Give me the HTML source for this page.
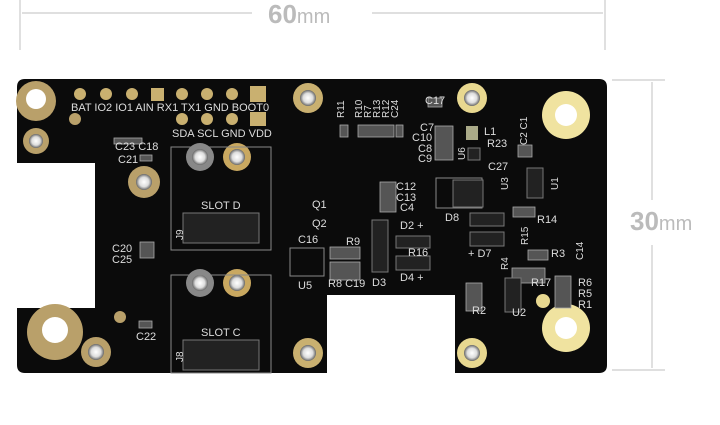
<!DOCTYPE html>
<html><head><style>body{margin:0;background:#fff}svg{display:block}text{font-family:"Liberation Sans",sans-serif}</style></head><body>
<svg width="720" height="425" viewBox="0 0 720 425">
<defs>
<radialGradient id="hole" cx="50%" cy="50%" r="50%"><stop offset="0" stop-color="#fff"/><stop offset="0.6" stop-color="#ddd"/><stop offset="1" stop-color="#666"/></radialGradient>
</defs>
<g stroke="#ccc" stroke-width="1.2">
<line x1="20" y1="0" x2="20" y2="50"/><line x1="605" y1="0" x2="605" y2="50"/>
<line x1="22" y1="13" x2="252" y2="13"/><line x1="372" y1="13" x2="603" y2="13"/>
<line x1="612" y1="80" x2="665" y2="80"/><line x1="612" y1="370" x2="665" y2="370"/>
<line x1="652" y1="82" x2="652" y2="200"/><line x1="652" y1="245" x2="652" y2="368"/>
</g>
<text x="268" y="23" font-size="26" font-weight="bold" fill="#bbb">60<tspan font-size="20" font-weight="normal">mm</tspan></text>
<text x="630" y="230" font-size="26" font-weight="bold" fill="#bbb">30<tspan font-size="20" font-weight="normal">mm</tspan></text>
<path d="M25 79 H599 Q607 79 607 87 V365 Q607 373 599 373 H455 V295 H327 V373 H25 Q17 373 17 365 V308 H95 V163 H17 V87 Q17 79 25 79Z" fill="#0b0b0b"/>
<circle cx="36" cy="101" r="20" fill="#b9a06a"/><circle cx="36" cy="99" r="10" fill="#fff"/>
<circle cx="55" cy="332" r="28" fill="#b9a06a"/><circle cx="55" cy="330" r="13" fill="#fff"/>
<circle cx="566" cy="115" r="24" fill="#f0e3a0"/><circle cx="566" cy="115" r="11" fill="#fff"/>
<circle cx="566" cy="328" r="24" fill="#f0e3a0"/><circle cx="566" cy="328" r="11" fill="#fff"/>
<g>
<circle cx="36" cy="141" r="13" fill="#b9a06a"/><circle cx="36" cy="141" r="7" fill="url(#hole)"/>
<circle cx="144" cy="182" r="16" fill="#b9a06a"/><circle cx="144" cy="182" r="8" fill="url(#hole)"/>
<circle cx="96" cy="352" r="15" fill="#b9a06a"/><circle cx="96" cy="352" r="8" fill="url(#hole)"/>
<circle cx="308" cy="98" r="15" fill="#c9b070"/><circle cx="308" cy="98" r="8" fill="url(#hole)"/>
<circle cx="308" cy="353" r="15" fill="#c9b070"/><circle cx="308" cy="353" r="8" fill="url(#hole)"/>
<circle cx="472" cy="98" r="15" fill="#e8d890"/><circle cx="472" cy="98" r="8" fill="url(#hole)"/>
<circle cx="472" cy="353" r="15" fill="#e8d890"/><circle cx="472" cy="353" r="8" fill="url(#hole)"/>
<circle cx="200" cy="157" r="14" fill="#888"/><circle cx="200" cy="157" r="8" fill="url(#hole)"/>
<circle cx="237" cy="157" r="14" fill="#c9a860"/><circle cx="237" cy="157" r="8" fill="url(#hole)"/>
<circle cx="200" cy="283" r="14" fill="#888"/><circle cx="200" cy="283" r="8" fill="url(#hole)"/>
<circle cx="237" cy="283" r="14" fill="#c9a860"/><circle cx="237" cy="283" r="8" fill="url(#hole)"/>
<circle cx="75" cy="119" r="6" fill="#b9a06a"/><circle cx="120" cy="317" r="6" fill="#b9a06a"/><circle cx="543" cy="301" r="7" fill="#e8d890"/>
</g>
<g fill="#c9b070">
<circle cx="80" cy="94" r="6"/><circle cx="106" cy="94" r="6"/><circle cx="132" cy="94" r="6"/><rect x="151" y="88" width="13" height="13"/>
<circle cx="182" cy="94" r="6"/><circle cx="207" cy="94" r="6"/><circle cx="232" cy="94" r="6"/><rect x="250" y="86" width="16" height="16"/>
<circle cx="182" cy="119" r="6"/><circle cx="207" cy="119" r="6"/><circle cx="232" cy="119" r="6"/><rect x="250" y="112" width="16" height="14"/>
</g>
<g fill="#555" stroke="#aaa" stroke-width="0.8">
<rect x="340" y="125" width="8" height="12"/><rect x="358" y="125" width="36" height="12"/><rect x="396" y="125" width="7" height="12"/>
<rect x="140" y="242" width="14" height="16"/><rect x="114" y="138" width="28" height="6"/><rect x="140" y="155" width="12" height="6"/>
<rect x="139" y="321" width="13" height="7"/><rect x="428" y="98" width="14" height="9"/>
<rect x="435" y="126" width="18" height="34"/><rect x="380" y="182" width="16" height="30"/>
<rect x="513" y="207" width="22" height="10"/><rect x="528" y="250" width="20" height="10"/><rect x="512" y="268" width="33" height="15"/>
<rect x="555" y="276" width="16" height="32"/><rect x="466" y="283" width="16" height="28"/>
<rect x="330" y="247" width="30" height="12"/><rect x="330" y="262" width="30" height="18"/><rect x="518" y="145" width="14" height="12"/>
</g>
<g fill="none" stroke="#888" stroke-width="1">
<rect x="171" y="147" width="100" height="103"/><rect x="171" y="275" width="100" height="98"/>
<rect x="290" y="248" width="34" height="28"/><rect x="436" y="178" width="46" height="30"/>
</g>
<g fill="#222" stroke="#777">
<rect x="183" y="213" width="76" height="30"/><rect x="183" y="340" width="76" height="30"/>
<rect x="453" y="180" width="30" height="27"/><rect x="396" y="236" width="34" height="12"/><rect x="396" y="256" width="34" height="14"/>
<rect x="470" y="213" width="34" height="13"/><rect x="470" y="232" width="34" height="14"/>
<rect x="505" y="278" width="16" height="34"/><rect x="527" y="168" width="16" height="30"/>
<rect x="372" y="220" width="16" height="52"/><rect x="468" y="148" width="12" height="12"/>
</g>
<g fill="#aa8"><rect x="466" y="126" width="12" height="14"/></g>
<g fill="#ddd" font-size="11">
<text x="71" y="111">BAT IO2  IO1 AIN RX1 TX1 GND BOOT0</text>
<text x="172" y="137">SDA SCL GND VDD</text>
<text x="115" y="150">C23 C18</text><text x="118" y="163">C21</text>
<text x="112" y="252">C20</text><text x="112" y="263">C25</text><text x="136" y="340">C22</text>
<text x="201" y="209">SLOT D</text><text x="201" y="336">SLOT C</text>
<text x="298" y="243">C16</text><text x="346" y="245">R9</text><text x="298" y="289">U5</text>
<text x="328" y="287">R8 C19</text><text x="372" y="286">D3</text>
<text x="400" y="229">D2 +</text><text x="400" y="281">D4 +</text><text x="408" y="256">R16</text>
<text x="445" y="221">D8</text><text x="468" y="257">+ D7</text>
<text x="537" y="223">R14</text><text x="551" y="257">R3</text><text x="531" y="286">R17</text>
<text x="578" y="286">R6</text><text x="578" y="297">R5</text><text x="578" y="308">R1</text>
<text x="472" y="314">R2</text><text x="512" y="316">U2</text>
<text x="420" y="131">C7</text><text x="412" y="141">C10</text><text x="418" y="152">C8</text><text x="418" y="162">C9</text>
<text x="487" y="147">R23</text><text x="488" y="170">C27</text><text x="484" y="135">L1</text>
<text x="396" y="190">C12</text><text x="396" y="201">C13</text><text x="400" y="211">C4</text>
<text x="425" y="104">C17</text><text x="312" y="208">Q1</text><text x="312" y="227">Q2</text>
</g>
<g fill="#ddd" font-size="10">
<text transform="translate(344,118) rotate(-90)">R11</text>
<text transform="translate(362,118) rotate(-90)">R10</text>
<text transform="translate(371,118) rotate(-90)">R7</text>
<text transform="translate(380,118) rotate(-90)">R13</text>
<text transform="translate(389,118) rotate(-90)">R12</text>
<text transform="translate(398,118) rotate(-90)">C24</text>
<text transform="translate(183,240) rotate(-90)">J9</text><text transform="translate(183,362) rotate(-90)">J8</text>
<text transform="translate(465,160) rotate(-90)">U6</text><text transform="translate(508,190) rotate(-90)">U3</text>
<text transform="translate(558,190) rotate(-90)">U1</text><text transform="translate(527,145) rotate(-90)">C2 C1</text>
<text transform="translate(528,245) rotate(-90)">R15</text><text transform="translate(508,270) rotate(-90)">R4</text>
<text transform="translate(583,260) rotate(-90)">C14</text>
</g>
</svg>
</body></html>
